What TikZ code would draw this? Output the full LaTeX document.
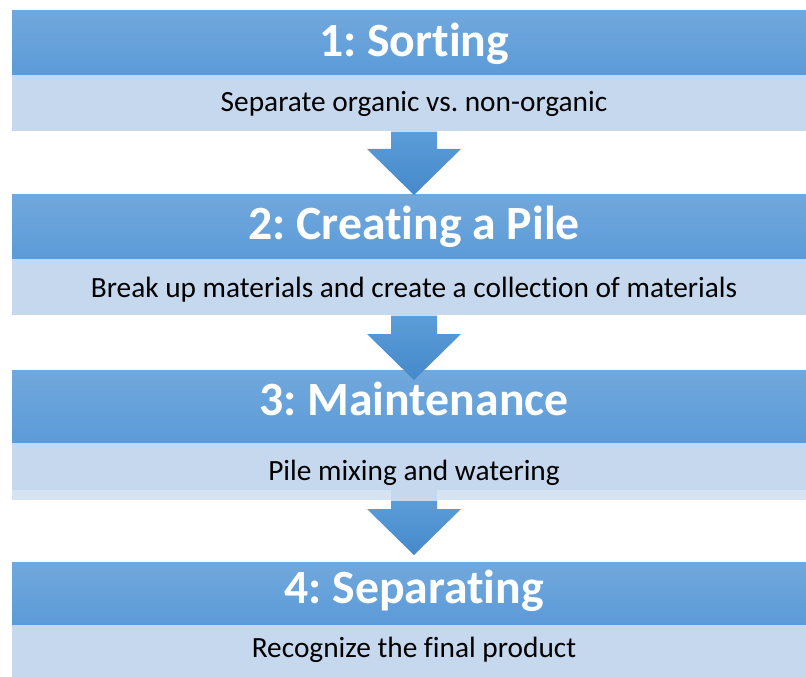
\documentclass[tikz,border=0pt]{standalone}
\usepackage{fontspec}
\setmainfont{Carlito}[Ligatures={NoCommon}]
\usetikzlibrary{calc}
\frenchspacing
\definecolor{hdtop}{HTML}{71A8DC}
\definecolor{hdbot}{HTML}{5B9BD9}
\definecolor{bodyc}{HTML}{C5D8EE}
\definecolor{stripc}{HTML}{D6E3F2}
\definecolor{artop}{HTML}{5B9DD8}
\definecolor{arbot}{HTML}{4689CB}
\tikzset{
  hdr/.style={rectangle, inner sep=0pt, minimum width=0.75*804pt, minimum height=0.75*#1pt, anchor=north, top color=hdtop, bottom color=hdbot, draw=none},
  bodybox/.style={rectangle, inner sep=0pt, minimum width=0.75*804pt, minimum height=0.75*#1pt, anchor=north, fill=bodyc, draw=none},
  stripbox/.style={rectangle, inner sep=0pt, minimum width=0.75*804pt, minimum height=0.75*#1pt, anchor=north, fill=stripc, draw=none},
  htext/.style={anchor=base, text=white, font=\fontsize{35.8}{42}\selectfont\bfseries, inner sep=0pt},
  btext/.style={anchor=base, text=black, font=\fontsize{22}{26}\selectfont, inner sep=0pt},
  arrowfill/.style={top color=artop, bottom color=arbot, draw=none},
}
\newcommand\blockarrow[3]{%
  \path[arrowfill] ($(#1.south)+(-23,0)$) -- ($(#1.south)+(23,0)$)
    -- ($(#2.north)+(23,#3-46)$) -- ($(#2.north)+(47,#3-46)$)
    -- ($(#2.north)+(0,#3)$)
    -- ($(#2.north)+(-47,#3-46)$) -- ($(#2.north)+(-23,#3-46)$) -- cycle;}
\begin{document}
\begin{tikzpicture}[x=0.75pt,y=-0.75pt]
\useasboundingbox (0,0) rectangle (806,677);
\clip (0,0) rectangle (806,677);
% step 1
\node[hdr=65] (h1) at (414,10) {};
\node[bodybox=56] (b1) at (414,75) {};
% step 2
\node[hdr=65] (h2) at (414,194) {};
\node[bodybox=56] (b2) at (414,259) {};
% step 3
\node[hdr=73] (h3) at (414,370) {};
\node[bodybox=47] (b3) at (414,443) {};
\node[stripbox=10] (s3) at (414,490) {};
\fill[bodyc] (391,490) rectangle (437,500);
% step 4
\node[hdr=63] (h4) at (414,562) {};
\node[bodybox=60] (b4) at (414,625) {};
% arrows
\blockarrow{b1}{h2}{1}
\blockarrow{b2}{h3}{10}
\blockarrow{s3}{h4}{-7}
% texts
\node[htext] (t1) at (414,57) {1: Sorting};
\node[btext] (d1) at (414,112) {Separate organic vs. non-organic};
\node[htext] (t2) at (414,240) {2: Creating a Pile};
\node[btext] (d2) at (414,297) {Break up materials and create a collection of materials};
\node[htext] (t3) at (414,415) {3: Maintenance};
\node[btext] (d3) at (414,480) {Pile mixing and watering};
\node[htext] (t4) at (414,603) {4: Separating};
\node[btext] (d4) at (414,657) {Recognize the final product};
\end{tikzpicture}
\end{document}
